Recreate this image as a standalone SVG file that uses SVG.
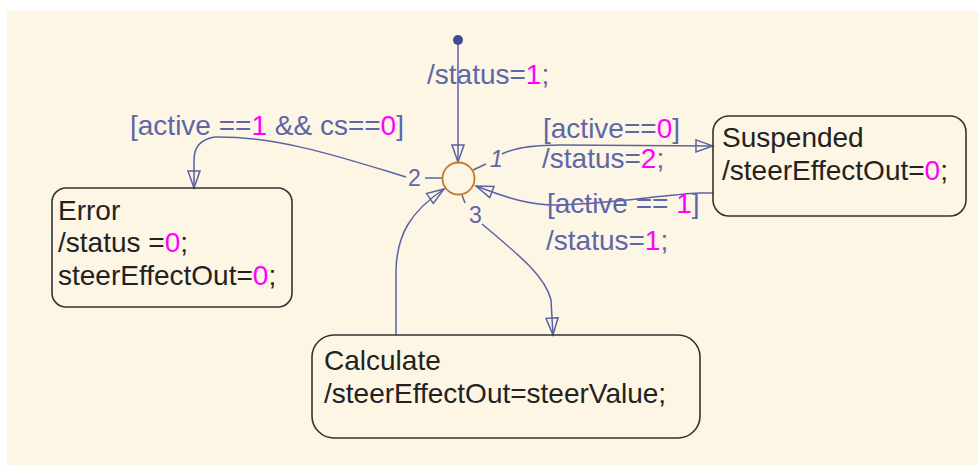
<svg xmlns="http://www.w3.org/2000/svg" width="978" height="466" viewBox="0 0 978 466">
  <style>
    .lbl { font-family: "Liberation Sans", Arial, sans-serif; font-size: 28px; fill: #5e66aa; }
    .st { font-family: "Liberation Sans", Arial, sans-serif; font-size: 28px; fill: #222222; }
    .num { font-family: "Liberation Sans", Arial, sans-serif; font-size: 23px; fill: #5e66aa; }
    .mg { fill: #ff00ff; }
    .box { fill: none; stroke: #333333; stroke-width: 1.6; }
    .tr { fill: none; stroke: #5a62a6; stroke-width: 1.5; }
  </style>
  <defs>
    <marker id="arr" markerWidth="20" markerHeight="16" refX="18" refY="8" orient="auto" markerUnits="userSpaceOnUse">
      <path d="M1,2 L18,8 L1,14 Z" fill="none" stroke="#5a62a6" stroke-width="1.5"/>
    </marker>
  </defs>

  <!-- chart canvas -->
  <rect x="0" y="0" width="978" height="466" fill="#ffffff"/>
  <rect x="7" y="11" width="971" height="454" fill="#fdf6e4"/>

  <!-- transitions -->
  <g id="connectors">
    <path class="tr" d="M458,44 L458,162" marker-end="url(#arr)"/>
    <path class="tr" d="M473,170 L486,164"/>
    <path class="tr" d="M502,154 Q520,145 560,145 L713,146" marker-end="url(#arr)"/>
    <path class="tr" d="M713,193 L700,193 C660,195 620,203 560,205 C530,206 505,197 476,186" marker-end="url(#arr)"/>
    <path class="tr" d="M442,178 L425,178"/>
    <path class="tr" d="M406,177 C350,160 280,136 215,137 Q194,140 194,160 L194,188" marker-end="url(#arr)"/>
    <path class="tr" d="M462,195 L465,203"/>
    <path class="tr" d="M482,224 C515,252 545,275 551,300 L553,335" marker-end="url(#arr)"/>
    <path class="tr" d="M396,335 L396,270 C397,235 410,212 444,189" marker-end="url(#arr)"/>

    <text class="lbl" x="427" y="84">/status=<tspan class="mg">1</tspan>;</text>
    <text class="lbl" x="130" y="135">[active ==<tspan class="mg">1</tspan> &amp;&amp; cs==<tspan class="mg">0</tspan>]</text>
    <text class="lbl" x="543" y="138">[active==<tspan class="mg">0</tspan>]</text>
    <text class="lbl" x="542" y="168">/status=<tspan class="mg">2</tspan>;</text>
    <text class="lbl" x="547" y="213">[active == <tspan class="mg">1</tspan>]</text>
    <text class="lbl" x="546" y="250">/status=<tspan class="mg">1</tspan>;</text>

    <text class="num" x="490" y="167" font-style="italic">1</text>
    <text class="num" x="408" y="186">2</text>
    <text class="num" x="469" y="223">3</text>
  </g>

  <!-- default transition source and junction -->
  <g id="init">
    <circle cx="458" cy="40" r="5" fill="#3f4a96"/>
  </g>
  <g id="junction">
    <circle cx="458.5" cy="178.5" r="16" fill="none" stroke="#c87a2a" stroke-width="1.8"/>
  </g>

  <!-- states -->
  <g id="error">
    <rect class="box" x="52" y="188" width="240" height="119" rx="14"/>
    <text class="st" x="58" y="220">Error</text>
    <text class="st" x="58" y="252">/status =<tspan class="mg">0</tspan>;</text>
    <text class="st" x="58" y="285">steerEffectOut=<tspan class="mg">0</tspan>;</text>
  </g>
  <g id="suspended">
    <rect class="box" x="713" y="116" width="253" height="100" rx="16"/>
    <text class="st" x="722" y="147">Suspended</text>
    <text class="st" x="722" y="180">/steerEffectOut=<tspan class="mg">0</tspan>;</text>
  </g>
  <g id="calculate">
    <rect class="box" x="312" y="335" width="388" height="103" rx="22"/>
    <text class="st" x="324" y="370">Calculate</text>
    <text class="st" x="324" y="403">/steerEffectOut=steerValue;</text>
  </g>
</svg>
